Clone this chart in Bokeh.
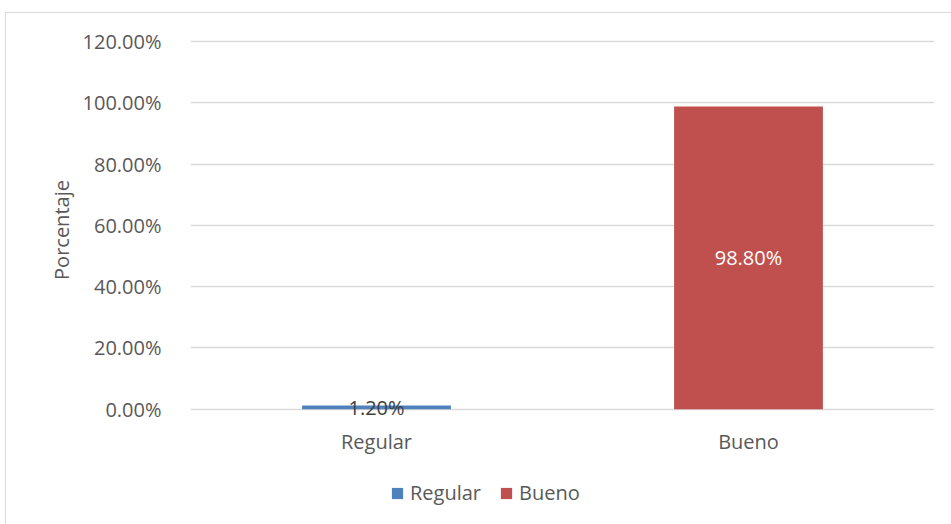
from bokeh.plotting import figure
from bokeh.layouts import column
from bokeh.models import (ColumnDataSource, FixedTicker, NumeralTickFormatter,
                          Legend, LegendItem, FactorRange)
from bokeh.core.properties import value
from bokeh.embed import file_html
from bokeh.resources import INLINE

categories = ["Regular", "Bueno"]
values = [0.012, 0.988]
labels = ["1.20%", "98.80%"]
colors = ["#4F81BD", "#C0504D"]
label_colors = ["#404040", "#FFFFFF"]
y_ticks = [0.0, 0.2, 0.4, 0.6, 0.8, 1.0, 1.2]

FONT = "Open Sans"
src = ColumnDataSource(dict(cat=categories, val=values, half=[v / 2 for v in values],
                            lab=labels, col=colors, lcol=label_colors))

p = figure(width=945, height=461, x_range=FactorRange(*categories), y_range=(-0.04, 1.21),
           output_backend="svg", toolbar_location=None,
           min_border_left=184, min_border_right=17, min_border_top=25, min_border_bottom=53)
p.outline_line_color = None
p.background_fill_color = "white"
p.border_fill_color = "white"

for i, c in enumerate(categories):
    p.vbar(x=[c], top=[values[i]], width=0.4, fill_color=colors[i], line_color=None)

p.text(x="cat", y="half", text="lab", source=src, text_color="lcol",
       text_align="center", text_baseline="middle",
       text_font=value(FONT), text_font_size="20px")

p.yaxis.ticker = FixedTicker(ticks=y_ticks)
p.yaxis.formatter = NumeralTickFormatter(format="0.00%")
p.yaxis.axis_label = "Porcentaje"
p.yaxis.axis_label_text_font = FONT
p.yaxis.axis_label_text_font_size = "20px"
p.yaxis.axis_label_text_font_style = "normal"
p.yaxis.axis_label_text_color = "#595959"
p.yaxis.axis_label_standoff = 5
for ax in (p.xaxis[0], p.yaxis[0]):
    ax.axis_line_color = None
    ax.major_tick_line_color = None
    ax.minor_tick_line_color = None
    ax.major_label_text_font = FONT
    ax.major_label_text_font_size = "20px"
    ax.major_label_text_color = "#595959"
p.yaxis.major_label_standoff = 23
p.xaxis.major_label_standoff = 0

p.xgrid.grid_line_color = None
p.ygrid.grid_line_color = "#D9D9D9"
p.ygrid.grid_line_width = 1.5

# legend strip below the plot
pl = figure(width=945, height=50, x_range=(0, 1), y_range=(0, 1),
            x_axis_type=None, y_axis_type=None,
            output_backend="svg", toolbar_location=None,
            min_border=0)
pl.outline_line_color = None
pl.background_fill_color = "white"
pl.border_fill_color = "white"
pl.grid.grid_line_color = None
leg_renderers = [pl.vbar(x=[-10], top=[-5], bottom=[-6], width=0.4, fill_color=colors[i], line_color=None)
                 for i in range(2)]
legend = Legend(items=[LegendItem(label=categories[i], renderers=[leg_renderers[i]]) for i in range(2)],
                orientation="horizontal", location=(200, 18),
                border_line_color=None, background_fill_alpha=0,
                padding=0, margin=0, spacing=18, label_standoff=6,
                glyph_width=14, glyph_height=14,
                label_text_font=FONT, label_text_font_size="20px", label_text_color="#595959")
pl.add_layout(legend)

layout = column(p, pl, spacing=0,
                styles={"margin-left": "5px", "margin-top": "12px",
                        "border-left": "1px solid #D9D9D9", "border-top": "1px solid #D9D9D9"})

open("out.html", "w").write(file_html(layout, INLINE))
